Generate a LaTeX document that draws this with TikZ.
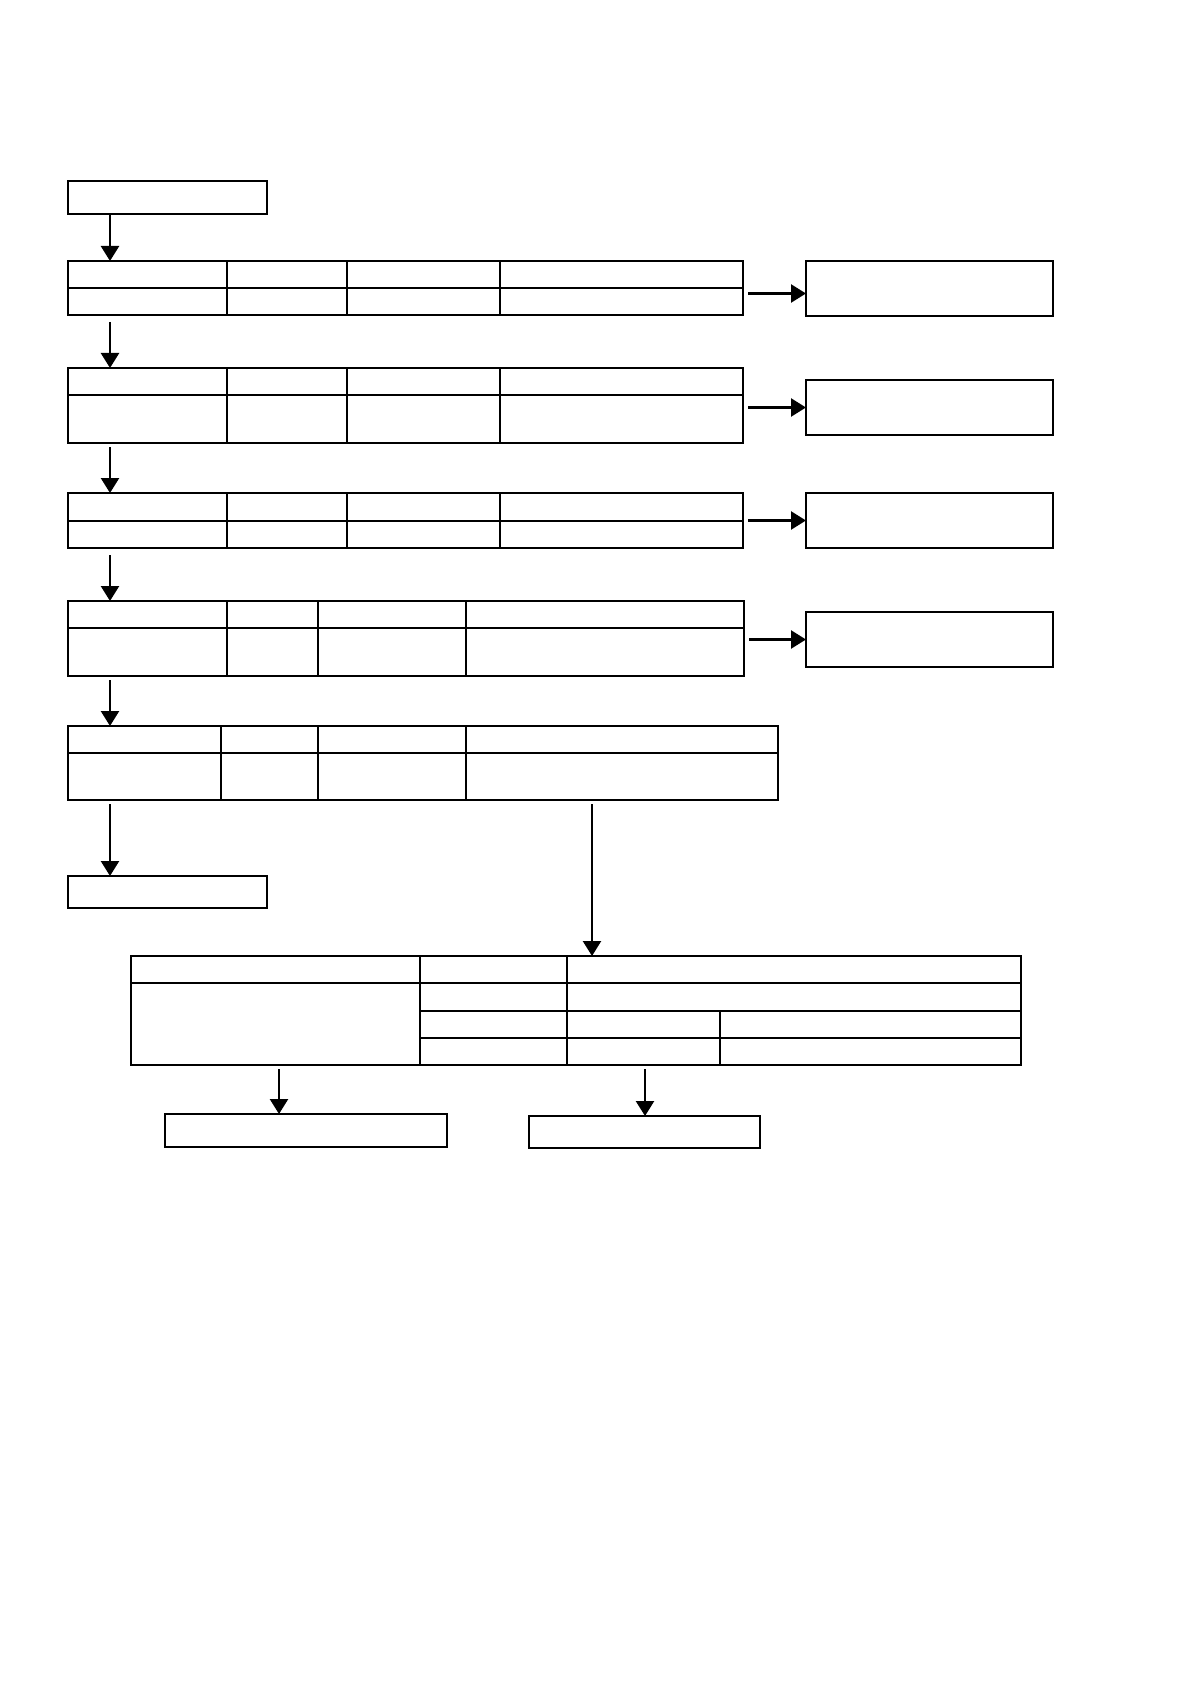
\documentclass[tikz,border=0pt]{standalone}
\usetikzlibrary{arrows.meta}
\newcommand\mkbox[6]{\node[#6, minimum width={(#4-#2)*0.5pt}, minimum height={(#5-#3)*0.5pt}] (#1) at ({(#2+#4)/2},{(#3+#5)/2}) {};}
\begin{document}
\begin{tikzpicture}[x=0.5pt,y=-0.5pt,
  frame/.style={draw, line width=1.05pt, inner sep=0pt, outer sep=0pt},
  thinframe/.style={draw, line width=0.65pt, inner sep=0pt, outer sep=0pt},
  cell/.style={line width=0.55pt},
  arr/.style={line width=1.2pt, -{Triangle[length=7.5pt,width=9pt]}, shorten <=2pt}]
\fill[white] (0,0) rectangle (1191,1684);
% boxes
\mkbox{top}{68}{181}{267}{214}{frame}
\mkbox{r1}{806}{261}{1053}{316}{frame}
\mkbox{r2}{806}{380}{1053}{435}{frame}
\mkbox{r3}{806}{493}{1053}{548}{thinframe}
\mkbox{r4}{806}{612}{1053}{667}{thinframe}
\mkbox{endl}{68}{876}{267}{908}{thinframe}
\mkbox{b1}{165}{1114}{447}{1147}{frame}
\mkbox{b2}{529}{1116}{760}{1148}{thinframe}
% tables
\mkbox{t1}{68}{261}{743}{315}{frame}
\mkbox{t2}{68}{368}{743}{443}{frame}
\mkbox{t3}{68}{493}{743}{548}{frame}
\mkbox{t4}{68}{601}{744}{676}{frame}
\mkbox{t5}{68}{726}{778}{800}{thinframe}
\mkbox{big}{131}{956}{1021}{1065}{frame}
% table cell lines
\draw[cell] (68,288) -- (743,288);
\foreach \c in {227,347,500} \draw[cell] (\c,261) -- (\c,315);
\draw[cell] (68,395) -- (743,395);
\foreach \c in {227,347,500} \draw[cell] (\c,368) -- (\c,443);
\draw[cell] (68,521) -- (743,521);
\foreach \c in {227,347,500} \draw[cell] (\c,493) -- (\c,548);
\draw[cell] (68,628) -- (744,628);
\foreach \c in {227,318,466} \draw[cell] (\c,601) -- (\c,676);
\draw[cell] (68,753) -- (778,753);
\foreach \c in {221,318,466} \draw[cell] (\c,726) -- (\c,800);
\draw[cell] (131,983) -- (1021,983);
\draw[cell] (420,956) -- (420,1065);
\draw[cell] (567,956) -- (567,1065);
\draw[cell] (420,1011) -- (1021,1011);
\draw[cell, line width=0.9pt] (420,1038) -- (1021,1038);
\draw[cell] (720,1011) -- (720,1065);
% connector coordinates
\coordinate (ax) at (110,0);
\coordinate (bx) at (592,0);
\coordinate (cx) at (279,0);
\coordinate (dx) at (645,0);
% down arrows
\draw[arr, shorten <=0pt] (top.south -| ax) -- (t1.north -| ax);
\draw[arr, shorten <=3.5pt] (t1.south -| ax) -- (t2.north -| ax);
\draw[arr] (t2.south -| ax) -- (t3.north -| ax);
\draw[arr, shorten <=3.5pt] (t3.south -| ax) -- (t4.north -| ax);
\draw[arr] (t4.south -| ax) -- (t5.north -| ax);
\draw[arr] (t5.south -| ax) -- (endl.north -| ax);
\draw[arr] (t5.south -| bx) -- (big.north -| bx);
\draw[arr] (big.south -| cx) -- (b1.north -| cx);
\draw[arr] (big.south -| dx) -- (b2.north -| dx);
% right arrows
\draw[arr, shorten <=2.5pt] ([yshift=-2.5pt]r1.west -| t1.east) -- ([yshift=-2.5pt]r1.west);
\draw[arr, shorten <=2.5pt] (r2.west -| t2.east) -- (r2.west);
\draw[arr, shorten <=2.5pt] (r3.west -| t3.east) -- (r3.west);
\draw[arr, shorten <=2.5pt] (r4.west -| t4.east) -- (r4.west);
\end{tikzpicture}
\end{document}
